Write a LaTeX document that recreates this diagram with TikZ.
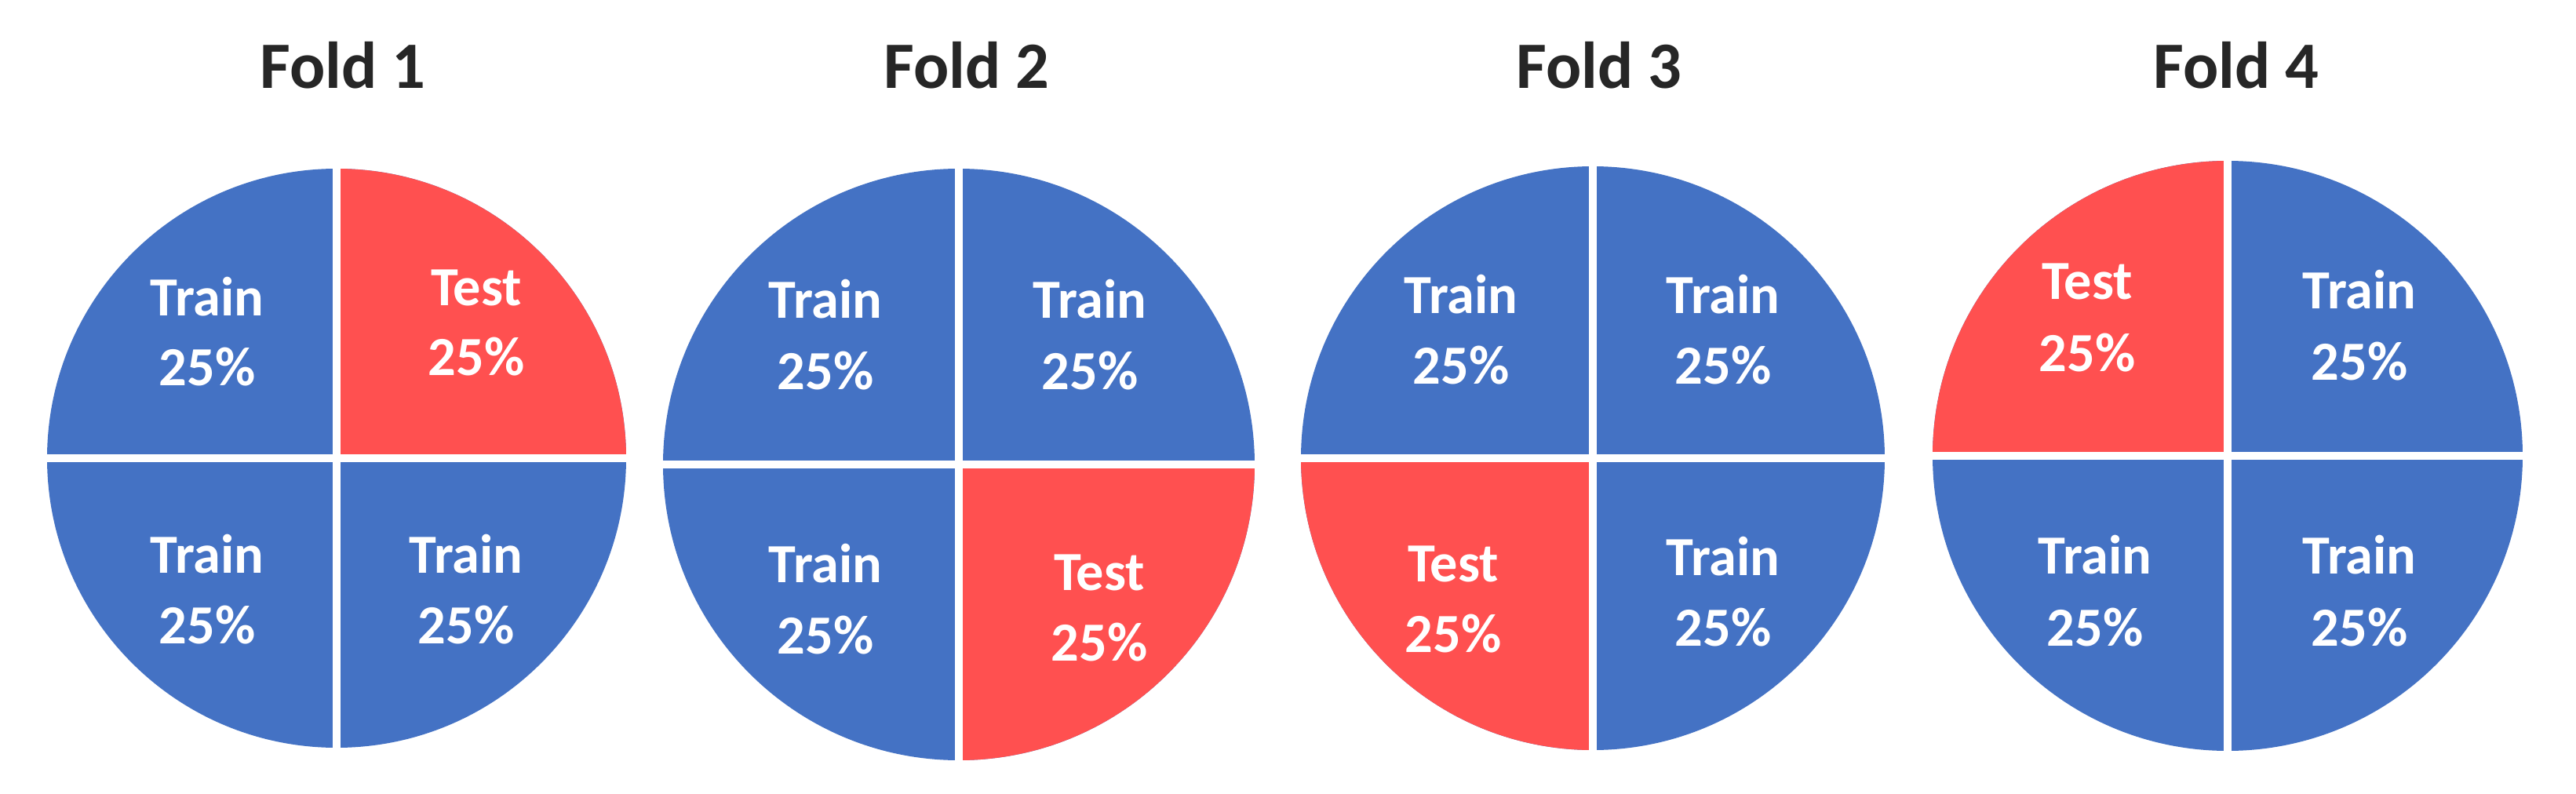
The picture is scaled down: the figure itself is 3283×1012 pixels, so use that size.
\documentclass[tikz,border=0pt]{standalone}
\usepackage{fontspec}
\setmainfont{Carlito}
\definecolor{trainblue}{HTML}{4472C4}
\definecolor{testred}{HTML}{FF5050}
\definecolor{titlegray}{HTML}{262626}
\tikzset{
  foldtitle/.style={anchor=base, text=titlegray, font=\fontsize{24}{28}\selectfont\bfseries, inner sep=0pt},
  lbl/.style={anchor=base, text=white, font=\fontsize{20}{24}\selectfont\bfseries, inner sep=0pt},
  gapline/.style={white, line width=2.85pt},
}
\newcommand{\foldpie}[5]{%
  % #1 name, #2 cx, #3 cy, #4 radius, #5 test quadrant rectangle corner offsets
  \coordinate (#1c) at (#2,-#3);
  \fill[trainblue] (#1c) circle (#4);
  \begin{scope}
    \clip (#1c) circle (#4);
    \fill[testred] (#1c) rectangle ++#5;
  \end{scope}
  \coordinate (#1l) at ($(#1c)+(-#4-5,0)$);
  \coordinate (#1r) at ($(#1c)+(#4+5,0)$);
  \coordinate (#1t) at ($(#1c)+(0,#4+5)$);
  \coordinate (#1b) at ($(#1c)+(0,-#4-5)$);
  \draw[gapline] (#1l) -- (#1r);
  \draw[gapline] (#1t) -- (#1b);
}
\usetikzlibrary{calc}
\begin{document}
\begin{tikzpicture}[x=0.01cm,y=0.01cm]
\useasboundingbox (0,0) rectangle (3283,-1012);
\fill[white] (0,0) rectangle (3283,-1012);

% Fold 1
\foldpie{p1}{429}{584}{369}{(400,400)}
\node[foldtitle] (t1) at (437,-113) {Fold 1};
\node[lbl] (p1a) at (264,-402) {Train};
\node[lbl] (p1b) at (264,-491) {25\%};
\node[lbl] (p1c) at (607,-389) {Test};
\node[lbl] (p1d) at (607,-478) {25\%};
\node[lbl] (p1e) at (264,-730) {Train};
\node[lbl] (p1f) at (264,-820) {25\%};
\node[lbl] (p1g) at (594,-730) {Train};
\node[lbl] (p1h) at (594,-820) {25\%};

% Fold 2
\foldpie{p2}{1222}{592}{377}{(400,-400)}
\node[foldtitle] (t2) at (1232,-113) {Fold 2};
\node[lbl] (p2a) at (1052,-405) {Train};
\node[lbl] (p2b) at (1052,-496) {25\%};
\node[lbl] (p2c) at (1389,-405) {Train};
\node[lbl] (p2d) at (1389,-496) {25\%};
\node[lbl] (p2e) at (1052,-742) {Train};
\node[lbl] (p2f) at (1052,-833) {25\%};
\node[lbl] (p2g) at (1401,-752) {Test};
\node[lbl] (p2h) at (1401,-842) {25\%};

% Fold 3
\foldpie{p3}{2030}{584}{372}{(-400,-400)}
\node[foldtitle] (t3) at (2038,-113) {Fold 3};
\node[lbl] (p3a) at (1862,-399) {Train};
\node[lbl] (p3b) at (1862,-489) {25\%};
\node[lbl] (p3c) at (2196,-399) {Train};
\node[lbl] (p3d) at (2196,-489) {25\%};
\node[lbl] (p3e) at (1852,-741) {Test};
\node[lbl] (p3f) at (1852,-831) {25\%};
\node[lbl] (p3g) at (2196,-733) {Train};
\node[lbl] (p3h) at (2196,-823) {25\%};

% Fold 4
\foldpie{p4}{2839}{581}{376}{(-400,400)}
\node[foldtitle] (t4) at (2850,-113) {Fold 4};
\node[lbl] (p4a) at (2660,-381) {Test};
\node[lbl] (p4b) at (2660,-473) {25\%};
\node[lbl] (p4c) at (3007,-393) {Train};
\node[lbl] (p4d) at (3007,-484) {25\%};
\node[lbl] (p4e) at (2670,-731) {Train};
\node[lbl] (p4f) at (2670,-823) {25\%};
\node[lbl] (p4g) at (3007,-731) {Train};
\node[lbl] (p4h) at (3007,-823) {25\%};
\end{tikzpicture}
\end{document}
